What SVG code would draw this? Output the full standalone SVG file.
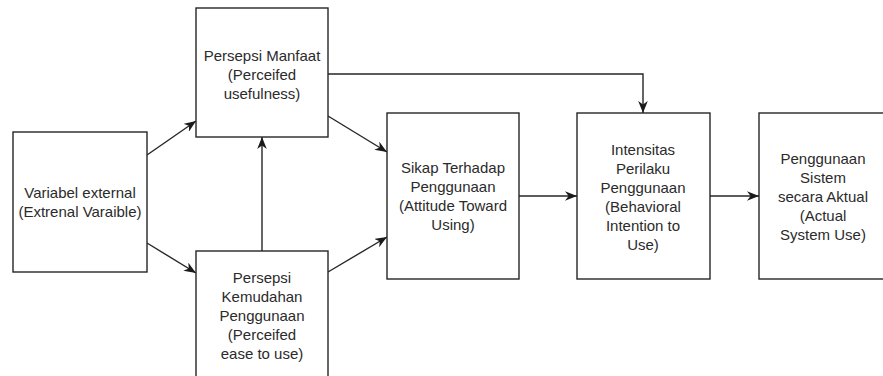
<svg xmlns="http://www.w3.org/2000/svg" width="883" height="376" viewBox="0 0 883 376">
<style>
.box{fill:#fff;stroke:#262626;stroke-width:1.4}
.t{font-family:"Liberation Sans",Arial,sans-serif;font-size:15px;fill:#2b2b2b;text-anchor:middle}
.c{fill:none;stroke:#262626;stroke-width:1.4}
</style>
<defs>
<marker id="ah" markerUnits="userSpaceOnUse" viewBox="0 0 10 8" refX="10" refY="4" markerWidth="12" markerHeight="9.6" orient="auto">
<path d="M0,0 L10,4 L0,8 L3,4 z" fill="#1a1a1a"/>
</marker>
</defs>
<rect width="883" height="376" fill="#fff"/>
<g id="connectors">
<line class="c" x1="147" y1="155" x2="196" y2="121" marker-end="url(#ah)"/>
<line class="c" x1="147" y1="243" x2="196" y2="273" marker-end="url(#ah)"/>
<line class="c" x1="262" y1="251" x2="262" y2="137" marker-end="url(#ah)"/>
<line class="c" x1="328" y1="116" x2="387" y2="152" marker-end="url(#ah)"/>
<line class="c" x1="328" y1="272" x2="387" y2="237" marker-end="url(#ah)"/>
<polyline class="c" points="328,74 643,74 643,113" marker-end="url(#ah)"/>
<line class="c" x1="519" y1="196" x2="577" y2="196" marker-end="url(#ah)"/>
<line class="c" x1="710" y1="196" x2="759" y2="196" marker-end="url(#ah)"/>
</g>
<g id="var-external">
<rect class="box" x="13" y="132" width="134" height="140"/>
<text class="t" x="80" y="198">Variabel external</text>
<text class="t" x="80" y="217">(Extrenal Varaible)</text>
</g>
<g id="persepsi-manfaat">
<rect class="box" x="196" y="8" width="132" height="129"/>
<text class="t" x="262" y="61">Persepsi Manfaat</text>
<text class="t" x="262" y="80">(Perceifed</text>
<text class="t" x="262" y="99">usefulness)</text>
</g>
<g id="persepsi-kemudahan">
<rect class="box" x="196" y="251" width="132" height="132"/>
<text class="t" x="262" y="283">Persepsi</text>
<text class="t" x="262" y="302">Kemudahan</text>
<text class="t" x="262" y="321">Penggunaan</text>
<text class="t" x="262" y="340">(Perceifed</text>
<text class="t" x="262" y="359">ease to use)</text>
</g>
<g id="sikap">
<rect class="box" x="387" y="113" width="132" height="166"/>
<text class="t" x="453" y="173">Sikap Terhadap</text>
<text class="t" x="453" y="192">Penggunaan</text>
<text class="t" x="453" y="211">(Attitude Toward</text>
<text class="t" x="453" y="230">Using)</text>
</g>
<g id="intensitas">
<rect class="box" x="577" y="113" width="133" height="166"/>
<text class="t" x="643" y="155">Intensitas</text>
<text class="t" x="643" y="174">Perilaku</text>
<text class="t" x="643" y="193">Penggunaan</text>
<text class="t" x="643" y="212">(Behavioral</text>
<text class="t" x="643" y="231">Intention to</text>
<text class="t" x="643" y="250">Use)</text>
</g>
<g id="penggunaan-aktual">
<rect class="box" x="759" y="113" width="133" height="166"/>
<text class="t" x="823" y="164">Penggunaan</text>
<text class="t" x="823" y="183">Sistem</text>
<text class="t" x="823" y="202">secara Aktual</text>
<text class="t" x="823" y="221">(Actual</text>
<text class="t" x="823" y="240">System Use)</text>
</g>
</svg>
